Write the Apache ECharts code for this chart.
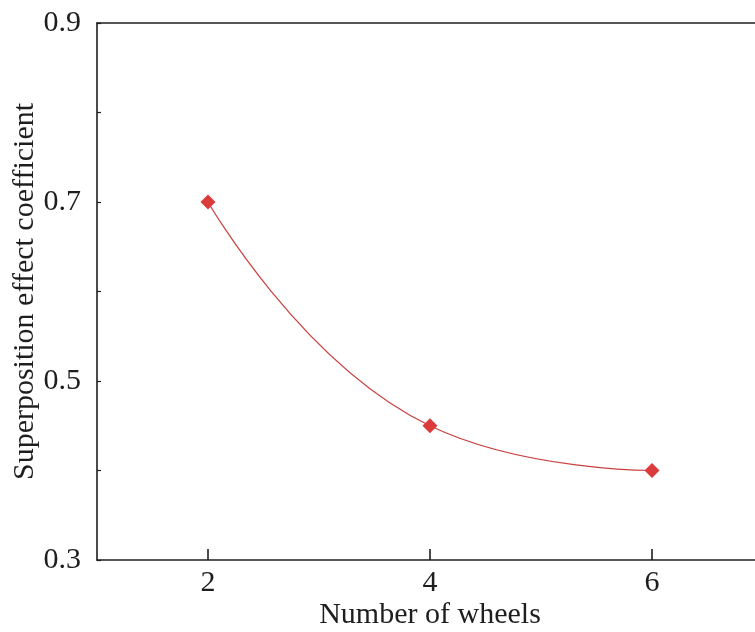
<!DOCTYPE html>
<html>
<head>
<meta charset="utf-8">
<script src="https://cdn.jsdelivr.net/npm/echarts@6/dist/echarts.min.js"></script>
<style>
  html, body { margin: 0; padding: 0; background: #ffffff; overflow: hidden; width: 755px; height: 632px; }
  #wrap { width: 755px; height: 632px; overflow: hidden; position: relative; }
  /* the plot frame runs past the right edge of the window */
  #chart { width: 900px; height: 632px; position: absolute; left: 0; top: 0; }
</style>
</head>
<body>
<div id="wrap"><div id="chart"></div></div>
<script>
// Superposition effect coefficient vs. number of wheels
const wheelCounts = [2, 4, 6];
const coefficients = [0.70, 0.45, 0.40];
const xTickValues = [2, 4, 6];
const yLabelValues = [0.3, 0.5, 0.7, 0.9];

const serif = '"Liberation Serif", "Times New Roman", serif';
const ink = '#1e1e1e';

const chart = echarts.init(document.getElementById('chart'), null, { renderer: 'canvas' });

chart.setOption({
  backgroundColor: '#ffffff',
  animation: false,
  grid: {
    left: 97, top: 23, width: 666, height: 537,
    outerBoundsMode: 'none',
    containLabel: false
  },
  xAxis: [{
    type: 'value',
    min: 1, max: 7,
    name: 'Number of wheels',
    nameLocation: 'middle',
    nameGap: 40,
    nameMoveOverlap: false,
    nameTextStyle: { fontFamily: serif, fontSize: 30, color: ink },
    axisLine: { show: true, lineStyle: { color: ink, width: 1.6 } },
    axisTick: { show: true, inside: true, length: 11, customValues: xTickValues, lineStyle: { color: ink, width: 1.6 } },
    axisLabel: { customValues: xTickValues, margin: 8, fontFamily: serif, fontSize: 30, color: ink },
    splitLine: { show: false }
  }, {
    // top frame line
    type: 'value',
    position: 'top',
    min: 1, max: 7,
    axisLine: { show: true, lineStyle: { color: ink, width: 1.6 } },
    axisTick: { show: false },
    axisLabel: { show: false },
    splitLine: { show: false }
  }],
  yAxis: {
    type: 'value',
    min: 0.3, max: 0.9, interval: 0.1,
    name: 'Superposition effect coefficient',
    nameLocation: 'middle',
    nameGap: 57,
    nameMoveOverlap: false,
    nameRotate: 90,
    nameTextStyle: { fontFamily: serif, fontSize: 30, color: ink },
    axisLine: { show: true, lineStyle: { color: ink, width: 1.6 } },
    axisTick: { show: true, inside: true, length: 4, lineStyle: { color: ink, width: 1.2 } },
    axisLabel: {
      margin: 16, fontFamily: serif, fontSize: 30, color: ink,
      formatter: function (v) {
        const r = Math.round(v * 10) / 10;
        return yLabelValues.some(function (t) { return Math.abs(t - r) < 1e-6; }) ? r.toFixed(1) : '';
      }
    },
    splitLine: { show: false }
  },
  series: [{
    type: 'line',
    xAxisIndex: 0,
    data: wheelCounts.map(function (w, i) { return [w, coefficients[i]]; }),
    smooth: true,
    symbol: 'diamond',
    symbolSize: 15,
    itemStyle: { color: '#dc3b3b' },
    lineStyle: { color: '#c9403f', width: 1.2 }
  }]
});
</script>
</body>
</html>
